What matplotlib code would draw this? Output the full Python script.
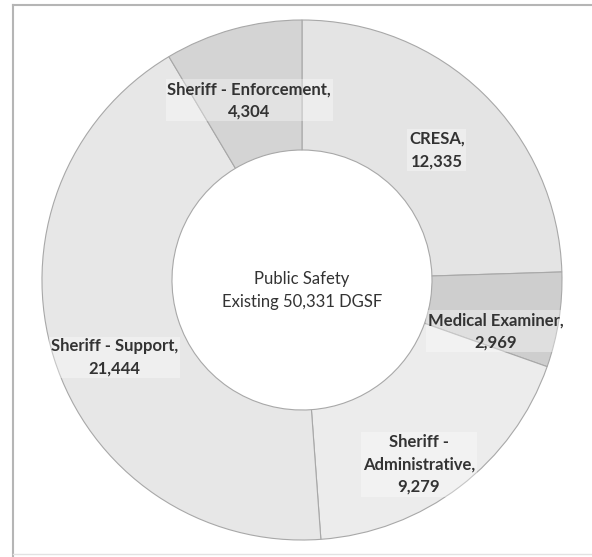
import numpy as np
import matplotlib
matplotlib.use("Agg")
import matplotlib.pyplot as plt
from matplotlib.lines import Line2D

# square footage by department
departments = ["CRESA", "Medical Examiner", "Sheriff -\nAdministrative",
               "Sheriff - Support", "Sheriff - Enforcement"]
dgsf = [12335, 2969, 9279, 21444, 4304]
slice_colors = ["#e4e4e4", "#cecece", "#ececec", "#e7e7e7", "#d4d4d4"]
label_radius = [0.72, 0.77, 0.84, 0.78, 0.72]
label_shift = [-2, -6, -5, 5, 1]  # degrees, nudges labels off the wedge centre

plt.rcParams['font.family'] = ['Lato', 'DejaVu Sans']

fig = plt.figure(figsize=(5.92, 5.57), dpi=100)
ax = fig.add_axes([0.0709, 0.0305, 0.8784, 0.9336])

wedges, _ = ax.pie(dgsf, colors=slice_colors, startangle=90, counterclock=False,
                   radius=1.0, wedgeprops=dict(width=0.5, edgecolor="#a8a8a8", linewidth=0.8))

for w, name, val, r, sh in zip(wedges, departments, dgsf, label_radius, label_shift):
    ang = np.deg2rad((w.theta1 + w.theta2) / 2 + sh)
    ax.text(r * np.cos(ang), r * np.sin(ang), "%s,\n%s" % (name, format(val, ",")),
            ha="center", va="center", fontsize=12, fontweight="bold", color="#333333",
            linespacing=1.5,
            bbox=dict(boxstyle="square,pad=0.1", fc="white", ec="none", alpha=0.35))

total = sum(dgsf)
ax.text(0, -0.04, "Public Safety\nExisting %s DGSF" % format(total, ","),
        ha="center", va="center", fontsize=12, color="#333333", linespacing=1.5)

ax.set_xlim(-1, 1)
ax.set_ylim(-1, 1)
ax.set_aspect("equal")
ax.axis("off")

# outer frame
fx = 13 / 592
fy = 1 - 5 / 557
fig.add_artist(Line2D([fx, fx], [0, fy], transform=fig.transFigure, color="#b5b5b5", lw=1.5))
fig.add_artist(Line2D([fx, 1], [fy, fy], transform=fig.transFigure, color="#b5b5b5", lw=1.5))
fig.add_artist(Line2D([fx, 1], [3 / 557, 3 / 557], transform=fig.transFigure, color="#e2e2e2", lw=1.0))

fig.savefig("out.png", dpi=100)
